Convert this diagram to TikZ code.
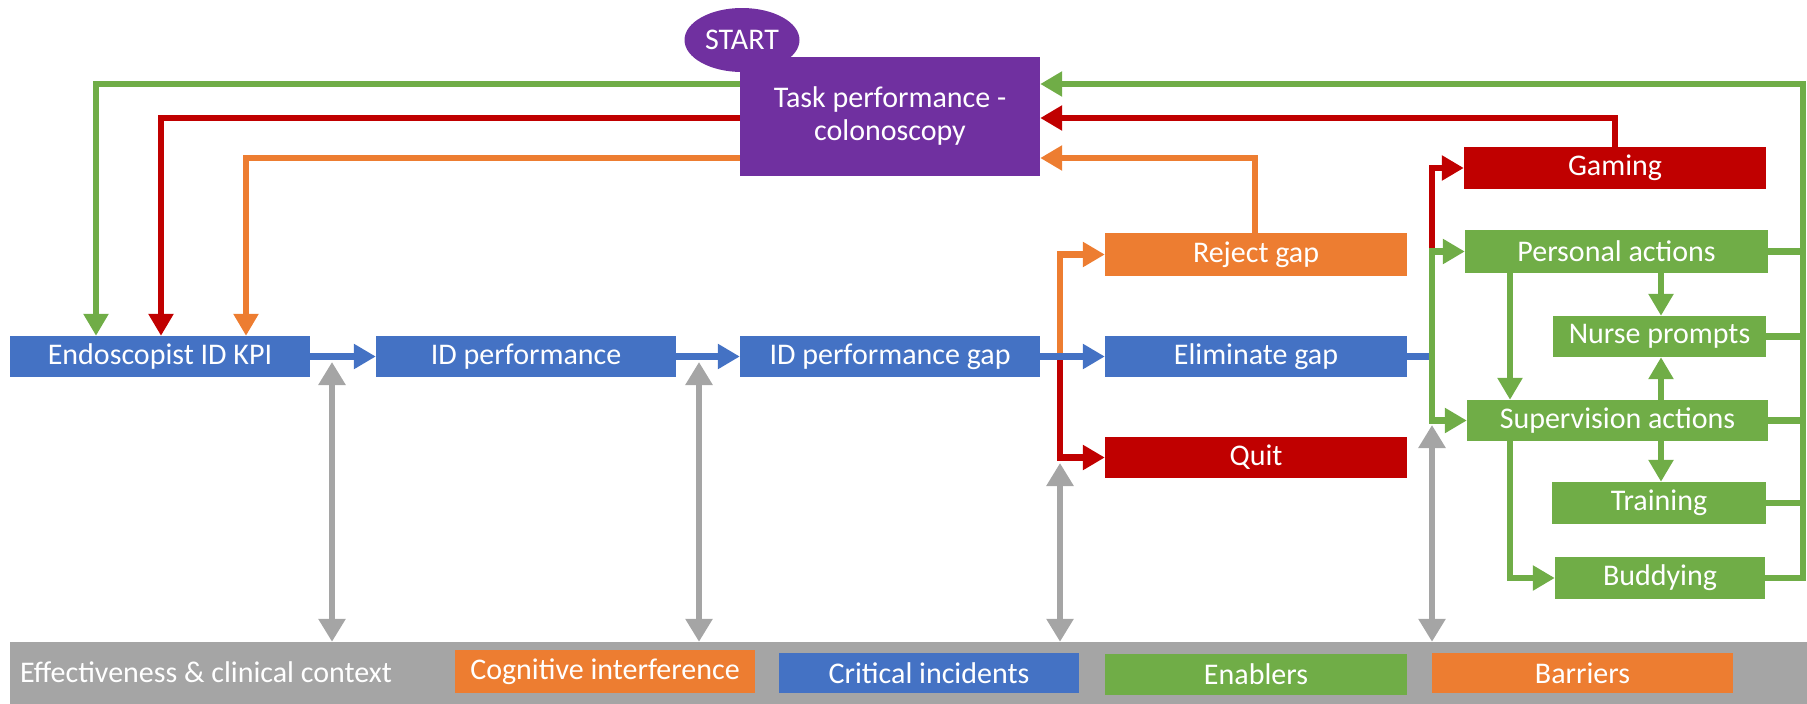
\documentclass[tikz,border=0pt]{standalone}
\usepackage{fontspec}
\setmainfont{Carlito}
\usetikzlibrary{arrows.meta,shapes.geometric}
\definecolor{cpurple}{HTML}{7030A0}
\definecolor{cblue}{HTML}{4472C4}
\definecolor{corange}{HTML}{ED7D31}
\definecolor{cred}{HTML}{C00000}
\definecolor{cgreen}{HTML}{70AD47}
\definecolor{cgray}{HTML}{A5A5A5}
\begin{document}
\begin{tikzpicture}[x=1pt,y=-1pt,
  box/.style={rectangle, inner sep=0pt, text=white, font=\fontsize{30}{33}\selectfont},
  wh/.style 2 args={minimum width=#1pt, minimum height=#2pt},
  flow/.style={line width=6.5pt, -{Triangle[width=24pt,length=22pt]}},
  link/.style={line width=6.5pt},
  both/.style={line width=6.5pt, color=cgray,
    {Triangle[width=26pt,length=23pt]}-{Triangle[width=26pt,length=23pt]}},
]
\useasboundingbox (0,0) rectangle (1807,704);

% start marker and the task box on top of it
\node[ellipse, fill=cpurple, inner sep=0pt, wh={115}{64}, text=white,
      font=\fontsize{30}{33}\selectfont] (start) at (742,40) {START};
\node[box, fill=cpurple, wh={300}{119}, align=center] (task) at (890,116.5)
  {Task performance -\\colonoscopy};

% main chain
\node[box, fill=cblue, wh={300}{41}] (endo)   at (160,356.5)  {Endoscopist ID KPI};
\node[box, fill=cblue, wh={300}{41}] (idperf) at (526,356.5)  {ID performance};
\node[box, fill=cblue, wh={300}{41}] (idgap)  at (890,356.5)  {ID performance gap};
\node[box, fill=cblue, wh={302}{41}] (elim)   at (1256,356.5) {Eliminate gap};
\node[box, fill=corange, wh={302}{43}] (reject) at (1256,254.5) {Reject gap};
\node[box, fill=cred, wh={302}{41}] (quit)   at (1256,457.5) {Quit};

% responses
\node[box, fill=cred,   wh={302}{42}] (gaming)   at (1615,168)   {Gaming};
\node[box, fill=cgreen, wh={303}{43}] (personal) at (1616.5,251.5) {Personal actions};
\node[box, fill=cgreen, wh={213}{41}] (nurse)    at (1659.5,336.5) {Nurse prompts};
\node[box, fill=cgreen, wh={301}{41}] (superv)   at (1617.5,420.5) {Supervision actions};
\node[box, fill=cgreen, wh={214}{42}] (training) at (1659,503)   {Training};
\node[box, fill=cgreen, wh={210}{42}] (buddying) at (1660,578)   {Buddying};

% context bar with legend
\node[rectangle, fill=cgray, inner sep=0pt, wh={1797}{62}] (bar) at (908.5,673) {};
\node[box, anchor=west] (ctx) at (20,672) {Effectiveness \& clinical context};
\node[box, fill=corange, wh={300}{43}] (cog)  at (605,671.5)  {Cognitive interference};
\node[box, fill=cblue,   wh={300}{40}] (crit) at (929,673)    {Critical incidents};
\node[box, fill=cgreen,  wh={302}{41}] (enab) at (1256,674.5) {Enablers};
\node[box, fill=corange, wh={301}{40}] (barr) at (1582.5,673) {Barriers};

% feedback from the task to the KPI
\draw[flow, color=cgreen]  (task.west |- 0,84)  -| (endo.north -| 96,0);
\draw[flow, color=cred]    (task.west |- 0,118) -| (endo.north -| 161,0);
\draw[flow, color=corange] (task.west |- 0,158) -| (endo.north -| 246,0);

% branches out of the performance gap
\coordinate (split) at (1060,356.5);
\draw[flow, color=corange] (split) |- (reject.west);
\draw[flow, color=cred]    (split) |- (quit.west);

% chain arrows
\draw[flow, color=cblue] (endo) -- (idperf);
\draw[flow, color=cblue] (idperf) -- (idgap);
\draw[flow, color=cblue] (idgap) -- (elim);

% returns to the task
\draw[flow, color=corange] (reject.north -| 1255,0) |- (task.east |- 0,158);
\draw[flow, color=cred]    (gaming.north -| 1615,0) |- (task.east |- 0,118);
\draw[flow, color=cgreen]  (buddying.east) -| (1803,84) -- (task.east |- 0,84);
\foreach \n in {personal,nurse,superv,training}
  \draw[link, color=cgreen] (\n.east) -- (\n.east -| 1803,0);

% eliminating the gap
\coordinate (hub) at (1432,356.5);
\draw[link, color=cblue] (elim.east) -- (hub);
\draw[flow, color=cred]   (hub |- personal.west) |- (gaming.west);
\draw[flow, color=cgreen] (hub) |- (personal.west);
\draw[flow, color=cgreen] (hub) |- (superv.west);

% enabler actions
\draw[flow, color=cgreen] (personal.south -| 1510,0) -- (superv.north -| 1510,0);
\draw[flow, color=cgreen] (personal.south -| 1661,0) -- (nurse.north -| 1661,0);
\draw[flow, color=cgreen] (superv.north -| 1661,0) -- (nurse.south -| 1661,0);
\draw[flow, color=cgreen] (superv.south -| 1661,0) -- (training.north -| 1661,0);
\draw[flow, color=cgreen] (superv.south -| 1510,0) |- (buddying.west);

% links to the context
\coordinate (g1) at (332,362);
\coordinate (g2) at (699,362);
\coordinate (g3) at (1060,463);
\coordinate (g4) at (1432,425);
\foreach \g in {g1,g2,g3,g4}
  \draw[both] (\g) -- (\g |- bar.north);
\end{tikzpicture}
\end{document}
